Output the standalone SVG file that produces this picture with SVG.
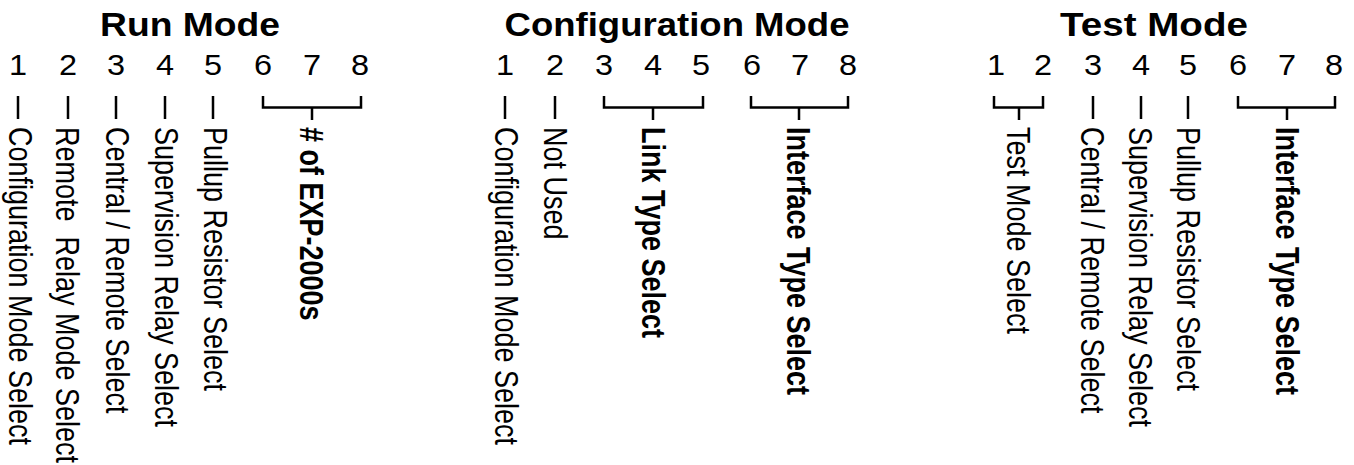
<svg xmlns="http://www.w3.org/2000/svg" width="1354" height="465" viewBox="0 0 1354 465">
<style>
text{font-family:"Liberation Sans",Arial,Helvetica,sans-serif;fill:#000}
.t{font-weight:bold;font-size:34px;text-anchor:middle}
.d{font-size:29px;text-anchor:middle}
.l{font-size:27px}
.b{font-size:27px;font-weight:bold}
.c{stroke:#000;stroke-width:2.5;fill:none}
</style>
<rect width="1354" height="465" fill="#fff"/>
<g id="run-mode">
<g id="run-title"><text class="t" x="190" y="36" textLength="180" lengthAdjust="spacingAndGlyphs">Run Mode</text></g>
<g id="run-digits">
<text class="d" transform="translate(18,75) scale(1.12,1)">1</text>
<text class="d" transform="translate(68,75) scale(1.12,1)">2</text>
<text class="d" transform="translate(116,75) scale(1.12,1)">3</text>
<text class="d" transform="translate(165,75) scale(1.12,1)">4</text>
<text class="d" transform="translate(213,75) scale(1.12,1)">5</text>
<text class="d" transform="translate(263,75) scale(1.12,1)">6</text>
<text class="d" transform="translate(312,75) scale(1.12,1)">7</text>
<text class="d" transform="translate(360,75) scale(1.12,1)">8</text>
</g>
<g id="run-1"><text class="l" transform="translate(9,127) scale(1.2,1) rotate(90)">Configuration Mode Select</text></g>
<g id="run-2"><text class="l" xml:space="preserve" transform="translate(56,127) scale(1.2,1) rotate(90)">Remote  Relay Mode Select</text></g>
<g id="run-3"><text class="l" transform="translate(106,127) scale(1.2,1) rotate(90)">Central / Remote Select</text></g>
<g id="run-4"><text class="l" transform="translate(155,127) scale(1.2,1) rotate(90)">Supervision Relay Select</text></g>
<g id="run-5"><text class="l" transform="translate(204,127) scale(1.2,1) rotate(90)">Pullup Resistor Select</text></g>
<g id="run-6-8"><text class="b" transform="translate(300,127) scale(1.2,1) rotate(90)"># of EXP-2000s</text></g>
</g>
<g id="config-mode">
<g id="config-title"><text class="t" x="677" y="36" textLength="345" lengthAdjust="spacingAndGlyphs">Configuration Mode</text></g>
<g id="config-digits">
<text class="d" transform="translate(505,75) scale(1.12,1)">1</text>
<text class="d" transform="translate(555,75) scale(1.12,1)">2</text>
<text class="d" transform="translate(604,75) scale(1.12,1)">3</text>
<text class="d" transform="translate(653,75) scale(1.12,1)">4</text>
<text class="d" transform="translate(701,75) scale(1.12,1)">5</text>
<text class="d" transform="translate(752,75) scale(1.12,1)">6</text>
<text class="d" transform="translate(800,75) scale(1.12,1)">7</text>
<text class="d" transform="translate(848,75) scale(1.12,1)">8</text>
</g>
<g id="config-1"><text class="l" transform="translate(495,127) scale(1.2,1) rotate(90)">Configuration Mode Select</text></g>
<g id="config-2"><text class="l" transform="translate(544,127) scale(1.2,1) rotate(90)">Not Used</text></g>
<g id="config-3-5"><text class="b" transform="translate(642,127) scale(1.2,1) rotate(90)">Link Type Select</text></g>
<g id="config-6-8"><text class="b" transform="translate(787,127) scale(1.2,1) rotate(90)">Interface Type Select</text></g>
</g>
<g id="test-mode">
<g id="test-title"><text class="t" x="1154" y="36" textLength="188" lengthAdjust="spacingAndGlyphs">Test Mode</text></g>
<g id="test-digits">
<text class="d" transform="translate(996,75) scale(1.12,1)">1</text>
<text class="d" transform="translate(1043,75) scale(1.12,1)">2</text>
<text class="d" transform="translate(1093,75) scale(1.12,1)">3</text>
<text class="d" transform="translate(1141,75) scale(1.12,1)">4</text>
<text class="d" transform="translate(1188,75) scale(1.12,1)">5</text>
<text class="d" transform="translate(1238,75) scale(1.12,1)">6</text>
<text class="d" transform="translate(1287,75) scale(1.12,1)">7</text>
<text class="d" transform="translate(1334,75) scale(1.12,1)">8</text>
</g>
<g id="test-1-2"><text class="l" transform="translate(1007,127) scale(1.2,1) rotate(90)">Test Mode Select</text></g>
<g id="test-3"><text class="l" transform="translate(1081,127) scale(1.2,1) rotate(90)">Central / Remote Select</text></g>
<g id="test-4"><text class="l" transform="translate(1129,127) scale(1.2,1) rotate(90)">Supervision Relay Select</text></g>
<g id="test-5"><text class="l" transform="translate(1177,127) scale(1.2,1) rotate(90)">Pullup Resistor Select</text></g>
<g id="test-6-8"><text class="b" transform="translate(1276,127) scale(1.2,1) rotate(90)">Interface Type Select</text></g>
</g>
<g id="connectors" class="c">
<path d="M18,96V119M68,96V119M116,96V119M165,96V119M213,96V119"/>
<path d="M263,96V107.5H361V96M312,107.5V120"/>
<path d="M505,96V119M555,96V119"/>
<path d="M604,96V107.5H703V96M653,107.5V120"/>
<path d="M751,96V107.5H848V96M799,107.5V120"/>
<path d="M994,96V107.5H1043V96M1019,107.5V120"/>
<path d="M1093,96V119M1141,96V119M1188,96V119"/>
<path d="M1238,96V107.5H1335V96M1287,107.5V120"/>
</g>
</svg>
